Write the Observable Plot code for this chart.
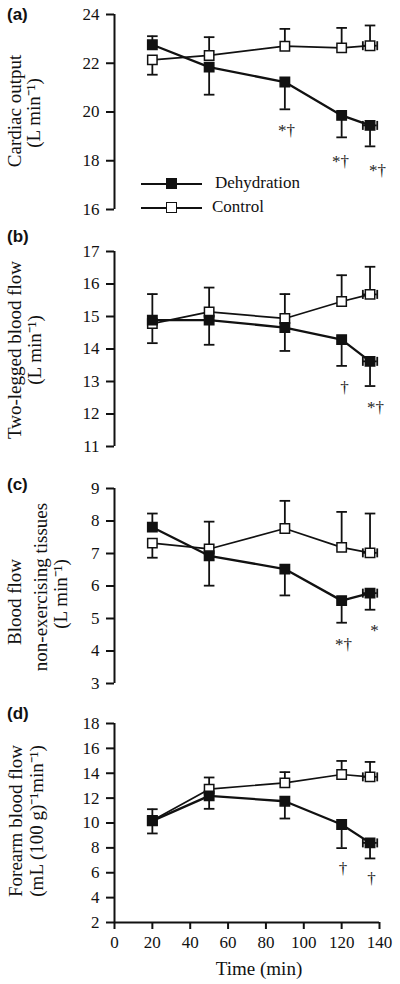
<!DOCTYPE html>
<html>
<head>
<meta charset="utf-8">
<script src="https://cdn.jsdelivr.net/npm/d3@7"></script>
<script src="https://cdn.jsdelivr.net/npm/@observablehq/plot@0.6"></script>
<style>
  html, body { margin: 0; padding: 0; background: #fff; }
  #wrap { position: relative; width: 400px; height: 984px; overflow: hidden; font-family: "Liberation Serif", "Times New Roman", serif; color: #111; }
  #wrap svg text { font-family: "Liberation Serif", "Times New Roman", serif; }
  .plabel { position: absolute; font-family: "Liberation Sans", Arial, sans-serif; font-weight: bold; font-size: 17px; line-height: 18px; color: #111; }
  .leg-line { position: absolute; height: 0; border-top: 2px solid #111; }
  .leg-box { position: absolute; width: 9px; height: 9px; border: 1.5px solid #111; }
  .leg-text { position: absolute; font-size: 17px; line-height: 20px; white-space: nowrap; }
</style>
</head>
<body>
<div id="wrap"></div>
<script>
// ---------------- data ----------------
const times = [20, 50, 90, 120, 135];
const timeErr = [0, 0, 0, 0, 3.8];          // horizontal spread of the last point (min)
const seriesNames = ["Dehydration", "Control"];
const xTicks = [0, 20, 40, 60, 80, 100, 120, 140];

// (a) Cardiac output
const cardiacDehyd      = [22.76, 21.84, 21.23, 19.86, 19.45];
const cardiacDehydEnd   = [23.11, 20.71, 20.11, 18.96, 18.59];
const cardiacControl    = [22.14, 22.32, 22.70, 22.63, 22.72];
const cardiacControlEnd = [21.53, 23.07, 23.41, 23.45, 23.55];
const cardiacTicks = [16, 18, 20, 22, 24];
const cardiacAnnX = [90.9, 119.4, 138.9];
const cardiacAnnY = [19.53, 18.22, 17.89];
const cardiacAnnText = ["*†", "*†", "*†"];

// (b) Two-legged blood flow
const legDehyd      = [14.89, 14.89, 14.66, 14.29, 13.62];
const legDehydEnd   = [15.69, 14.13, 13.94, 13.48, 12.86];
const legControl    = [14.78, 15.14, 14.94, 15.46, 15.68];
const legControlEnd = [14.18, 15.89, 15.69, 16.27, 16.53];
const legTicks = [11, 12, 13, 14, 15, 16, 17];
const legAnnX = [121.5, 137.9];
const legAnnY = [13.02, 12.41];
const legAnnText = ["†", "*†"];

// (c) Blood flow non-exercising tissues
const nonExDehyd      = [7.81, 6.93, 6.52, 5.55, 5.78];
const nonExDehydEnd   = [8.23, 6.01, 5.71, 4.87, 5.27];
const nonExControl    = [7.32, 7.14, 7.77, 7.19, 7.02];
const nonExControlEnd = [6.87, 7.98, 8.62, 8.28, 8.23];
const nonExTicks = [3, 4, 5, 6, 7, 8, 9];
const nonExAnnX = [121, 137.3];
const nonExAnnY = [4.41, 4.84];
const nonExAnnText = ["*†", "*"];

// (d) Forearm blood flow
const armDehyd      = [10.17, 12.18, 11.75, 9.88, 8.40];
const armDehydEnd   = [9.16, 11.14, 10.36, 7.98, 7.15];
const armControl    = [10.20, 12.72, 13.23, 13.90, 13.71];
const armControlEnd = [11.11, 13.66, 14.09, 14.99, 14.91];
const armTicks = [2, 4, 6, 8, 10, 12, 14, 16, 18];
const armAnnX = [120.7, 135.8];
const armAnnY = [6.85, 6.05];
const armAnnText = ["†", "†"];

// ---------------- layout / style ----------------
const ink = "#111";
const serif = "Liberation Serif";
const W = 400, ML = 114, MR = 21;

const panels = [
  { id: "(a)", top: 0, height: 230, mt: 14, mb: 21, labelTop: 6,
    dehyd: cardiacDehyd, dehydEnd: cardiacDehydEnd, control: cardiacControl, controlEnd: cardiacControlEnd,
    ticks: cardiacTicks, annX: cardiacAnnX, annY: cardiacAnnY, annText: cardiacAnnText,
    title: ["Cardiac output", "(L min⁻¹)"], titleBase: [20, 39.5], titleDy: [-1, 1] },
  { id: "(b)", top: 230, height: 225, mt: 21, mb: 9, labelTop: 228,
    dehyd: legDehyd, dehydEnd: legDehydEnd, control: legControl, controlEnd: legControlEnd,
    ticks: legTicks, annX: legAnnX, annY: legAnnY, annText: legAnnText,
    title: ["Two-legged blood flow", "(L min⁻¹)"], titleBase: [20.7, 40.7], titleDy: [1, 1] },
  { id: "(c)", top: 455, height: 235, mt: 33, mb: 7, labelTop: 476,
    dehyd: nonExDehyd, dehydEnd: nonExDehydEnd, control: nonExControl, controlEnd: nonExControlEnd,
    ticks: nonExTicks, annX: nonExAnnX, annY: nonExAnnY, annText: nonExAnnText,
    title: ["Blood flow", "non-exercising tissues", "(L min⁻¹)"], titleBase: [20, 46, 66.7], titleDy: [16, 1, 8] },
  { id: "(d)", top: 690, height: 294, mt: 33, mb: 62, labelTop: 705, xAxis: true,
    dehyd: armDehyd, dehydEnd: armDehydEnd, control: armControl, controlEnd: armControlEnd,
    ticks: armTicks, annX: armAnnX, annY: armAnnY, annText: armAnnText,
    title: ["Forearm blood flow", "(mL (100 g)⁻¹min⁻¹)"], titleBase: [21.7, 42.7], titleDy: [-2, -2] }
];

// custom cap symbols for error bars
const hCap = { draw(ctx, size) { const r = Math.sqrt(size / Math.PI); ctx.moveTo(-r, 0); ctx.lineTo(r, 0); } };
const vCap = { draw(ctx, size) { const r = Math.sqrt(size / Math.PI); ctx.moveTo(0, -r); ctx.lineTo(0, r); } };

const wrap = document.getElementById("wrap");

function buildPanel(p) {
  const rows = [];
  [["D", p.dehyd, p.dehydEnd], ["C", p.control, p.controlEnd]].forEach(([s, vals, ends]) => {
    times.forEach((t, i) => rows.push({ s, t, v: vals[i], end: ends[i], te: timeErr[i] }));
  });
  const D = rows.filter(r => r.s === "D");
  const C = rows.filter(r => r.s === "C");
  const H = rows.filter(r => r.te > 0);
  const Hcaps = H.flatMap(r => [{ t: r.t - r.te, v: r.v }, { t: r.t + r.te, v: r.v }]);
  const ann = p.annX.map((x, i) => ({ x, y: p.annY[i], text: p.annText[i] }));
  const yDomain = [p.ticks[0], p.ticks[p.ticks.length - 1]];

  const marks = [
    Plot.axisY({ ticks: p.ticks, tickFormat: d => String(d), tickSize: 8, tickPadding: 7, fontSize: 17, fontFamily: serif, fontVariant: "normal", label: null, color: ink, strokeWidth: 2 }),
    Plot.ruleX([0], { stroke: ink, strokeWidth: 2 })
  ];
  if (p.xAxis) {
    marks.push(
      Plot.ruleY([yDomain[0]], { stroke: ink, strokeWidth: 2 }),
      Plot.axisX({ ticks: xTicks, tickFormat: d => String(d), tickSize: 7, tickPadding: 6, fontSize: 17, fontFamily: serif, fontVariant: "normal", label: null, color: ink, strokeWidth: 2 }),
      Plot.text(["Time (min)"], { frameAnchor: "bottom", text: d => d, textAnchor: "middle", dx: 12, dy: 46, lineAnchor: "middle", fontSize: 19, fontFamily: serif, fill: ink })
    );
  }
  p.title.forEach((line, i) => {
    marks.push(Plot.text([line], {
      frameAnchor: "left", text: d => d, rotate: -90, textAnchor: "middle", lineAnchor: "bottom",
      dx: p.titleBase[i] - ML, dy: p.titleDy[i], fontSize: 19, fontFamily: serif, fill: ink
    }));
  });
  marks.push(
    // vertical error bars + caps
    Plot.ruleX(rows, { x: "t", y1: "v", y2: "end", stroke: ink, strokeWidth: 1.8 }),
    Plot.dot(rows, { x: "t", y: "end", symbol: hCap, r: 5.3, stroke: ink, strokeWidth: 1.8, fill: "none" }),
    // horizontal (time) error bars + caps
    Plot.ruleY(H, { y: "v", x1: d => d.t - d.te, x2: d => d.t + d.te, stroke: ink, strokeWidth: 1.8 }),
    Plot.dot(Hcaps, { x: "t", y: "v", symbol: vCap, r: 4.5, stroke: ink, strokeWidth: 1.8, fill: "none" }),
    // lines
    Plot.line(C, { x: "t", y: "v", stroke: ink, strokeWidth: 1.7 }),
    Plot.line(D, { x: "t", y: "v", stroke: ink, strokeWidth: 2.3 }),
    // markers
    Plot.dot(C, { x: "t", y: "v", symbol: "square", r: 5.3, fill: "#fff", stroke: ink, strokeWidth: 1.5 }),
    Plot.dot(D, { x: "t", y: "v", symbol: "square", r: 5.3, fill: ink, stroke: ink, strokeWidth: 1.5 }),
    // significance marks
    Plot.text(ann, { x: "x", y: "y", text: "text", lineAnchor: "top", fontSize: 17, fontFamily: serif, fill: "#222" })
  );

  const svg = Plot.plot({
    width: W, height: p.height,
    marginLeft: ML, marginRight: MR, marginTop: p.mt, marginBottom: p.mb,
    x: { domain: [0, 140], axis: null },
    y: { domain: yDomain, axis: null },
    style: { fontFamily: serif, fontSize: "17px", color: ink, background: "transparent", overflow: "visible" },
    marks
  });
  svg.style.position = "absolute";
  svg.style.left = "0px";
  svg.style.top = p.top + "px";
  wrap.appendChild(svg);

  const lab = document.createElement("div");
  lab.className = "plabel";
  lab.style.left = "7px";
  lab.style.top = p.labelTop + "px";
  lab.textContent = p.id;
  wrap.appendChild(lab);
}

panels.forEach(buildPanel);

// legend inside panel (a)
const legendY = [184, 208];
seriesNames.forEach((name, i) => {
  const y = legendY[i];
  const line = document.createElement("div");
  line.className = "leg-line";
  line.style.left = "141px"; line.style.width = "61px"; line.style.top = (y - 1) + "px";
  wrap.appendChild(line);
  const box = document.createElement("div");
  box.className = "leg-box";
  box.style.left = "166px"; box.style.top = (y - 6) + "px";
  box.style.background = i === 0 ? "#111" : "#fff";
  wrap.appendChild(box);
  const txt = document.createElement("div");
  txt.className = "leg-text";
  txt.style.left = (i === 0 ? 215 : 212) + "px"; txt.style.top = (y - 11) + "px";
  txt.textContent = name;
  wrap.appendChild(txt);
});
</script>
</body>
</html>
